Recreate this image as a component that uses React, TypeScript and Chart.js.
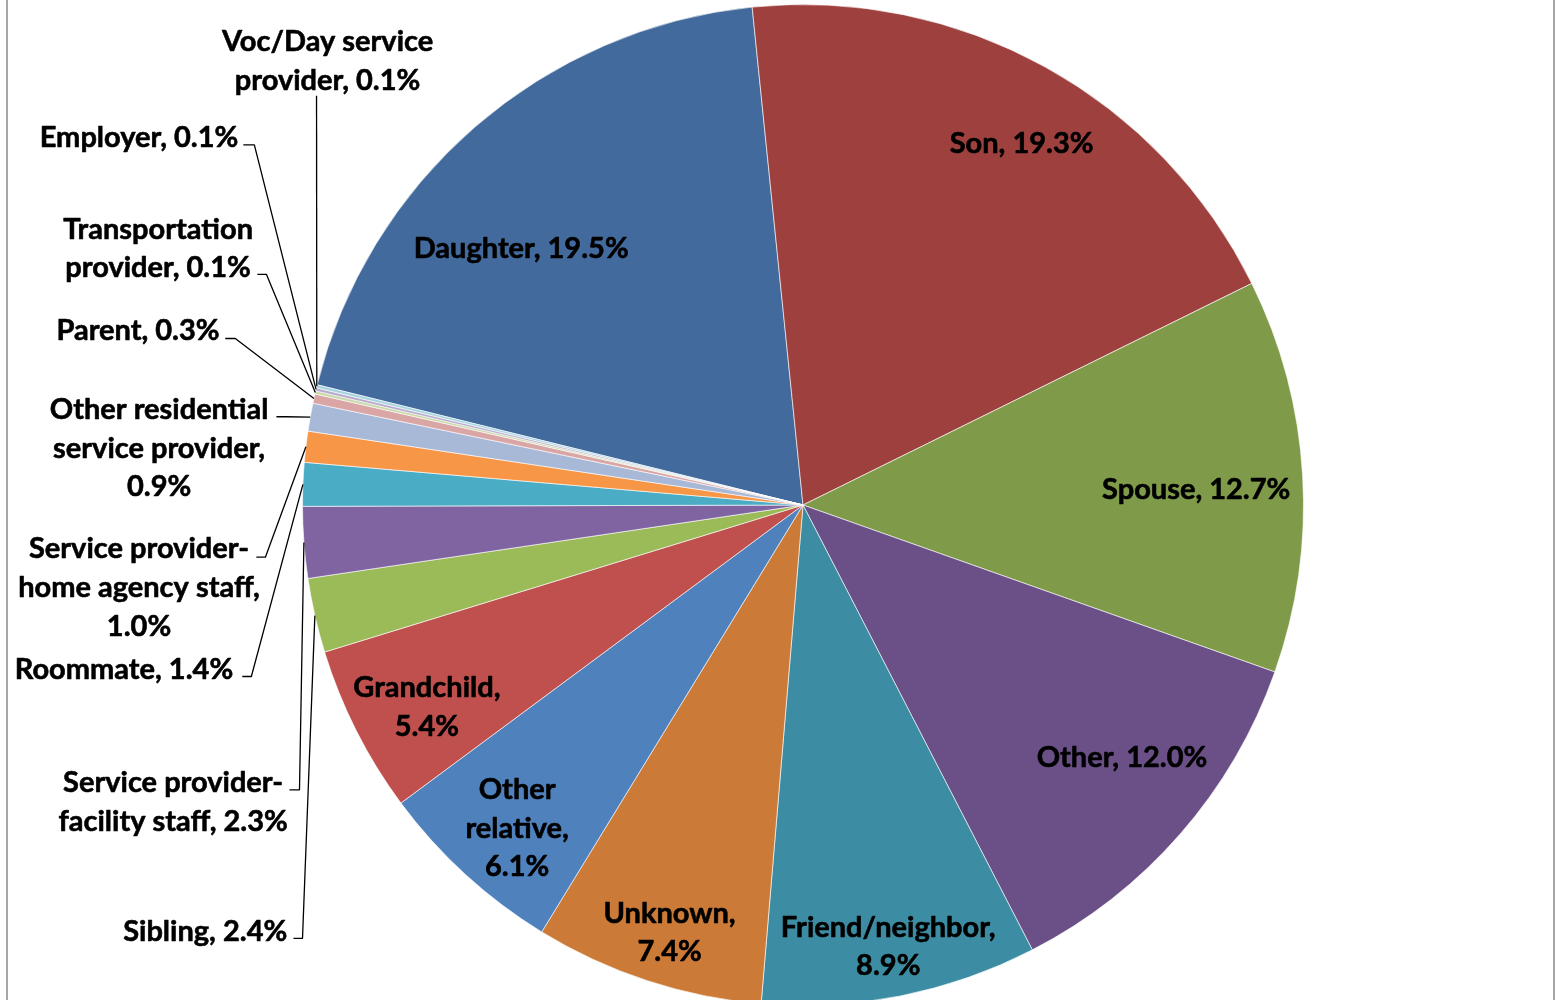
import React, { useEffect, useRef } from "react";
import { Chart, registerables } from "chart.js";

Chart.register(...registerables);

// ---------------- data ----------------
const categories = [
  "Daughter",
  "Son",
  "Spouse",
  "Other",
  "Friend/neighbor",
  "Unknown",
  "Other relative",
  "Grandchild",
  "Sibling",
  "Service provider-facility staff",
  "Roommate",
  "Service provider-home agency staff",
  "Other residential service provider",
  "Parent",
  "Transportation provider",
  "Employer",
  "Voc/Day service provider",
];

const values = [19.5, 19.3, 12.7, 12.0, 8.9, 7.4, 6.1, 5.4, 2.4, 2.3, 1.4, 1.0, 0.9, 0.3, 0.1, 0.1, 0.1];

const colors = [
  "#426A9D",
  "#9E413E",
  "#7F9B49",
  "#6A5086",
  "#3C8DA3",
  "#CC7A37",
  "#4F81BD",
  "#C0504D",
  "#9BBB59",
  "#8064A2",
  "#4BACC6",
  "#F79646",
  "#A8B9D8",
  "#D9A6A5",
  "#C9D9AA",
  "#B8ABCC",
  "#A5D4E1",
];

// ---------------- label layout (offsets from pie centre, reference radius) ----------------
const REF_R = 499;
const LINE_H = 38.5;
const TEXT_DY = 2;
const FONT = "bold 29px Lato";

type Pt = [number, number];
type LabelLayout = { pos: Pt; wrap: number[]; leader?: Pt[] };

const labelLayout: LabelLayout[] = [
  { pos: [-281, -258], wrap: [2] }, // Daughter
  { pos: [218, -362], wrap: [2] }, // Son
  { pos: [392, -17], wrap: [2] }, // Spouse
  { pos: [318, 250], wrap: [2] }, // Other
  { pos: [85, 419], wrap: [1, 1] }, // Friend/neighbor
  { pos: [-133, 405], wrap: [1, 1] }, // Unknown
  { pos: [-285, 282], wrap: [1, 1, 1] }, // Other relative
  { pos: [-375, 180], wrap: [1, 1] }, // Grandchild
  { pos: [-596, 423], wrap: [2], leader: [[-508, 432], [-499, 432]] }, // Sibling
  { pos: [-628, 275], wrap: [2, 3], leader: [[-512, 284], [-502, 284]] }, // facility staff
  { pos: [-677, 162], wrap: [2], leader: [[-559, 171], [-550, 171]] }, // Roommate
  { pos: [-662, 42], wrap: [2, 3, 1], leader: [[-545, 52], [-536, 52]] }, // home agency staff
  { pos: [-642, -97], wrap: [2, 2, 1], leader: [[-525, -88], [-515, -88]] }, // Other residential
  { pos: [-663, -176], wrap: [2], leader: [[-576, -166], [-566, -166]] }, // Parent
  { pos: [-643, -277], wrap: [1, 2], leader: [[-544, -230], [-535, -230]] }, // Transportation
  { pos: [-662, -368], wrap: [2], leader: [[-558, -359], [-547, -359]] }, // Employer
  { pos: [-474, -464], wrap: [2, 2], leader: [[-485, -408]] }, // Voc/Day
];

function tokenize(text: string): string[] {
  const out: string[] = [];
  text.split(" ").forEach((w) => {
    const parts = w.split(/(?<=-)(?=.)/);
    parts.forEach((p) => out.push(p));
  });
  return out;
}

function wrapLines(text: string, wrap: number[]): string[] {
  const tokens = tokenize(text);
  const lines: string[] = [];
  let i = 0;
  wrap.forEach((n) => {
    let line = "";
    for (let k = 0; k < n && i < tokens.length; k++, i++) {
      const t = tokens[i];
      if (line === "") line = t;
      else line += line.endsWith("-") ? t : " " + t;
    }
    lines.push(line);
  });
  return lines;
}

const labelPlugin = {
  id: "pieLabels",
  afterDatasetsDraw(chart: any) {
    const meta = chart.getDatasetMeta(0);
    const ctx = chart.ctx as CanvasRenderingContext2D;
    ctx.save();
    meta.data.forEach((arc: any, i: number) => {
      const p = arc.getProps(["x", "y", "startAngle", "endAngle", "outerRadius"], true);
      const s = p.outerRadius / REF_R;
      const lay = labelLayout[i];
      const label = `${categories[i]}, ${values[i].toFixed(1)}%`;
      const lines = wrapLines(label, lay.wrap);
      if (lay.leader) {
        const mid = (p.startAngle + p.endAngle) / 2;
        const ax = p.x + Math.cos(mid) * p.outerRadius;
        const ay = p.y + Math.sin(mid) * p.outerRadius;
        ctx.beginPath();
        ctx.strokeStyle = "#000";
        ctx.lineWidth = 1.3;
        lay.leader.forEach((pt, k) => {
          const x = p.x + pt[0] * s;
          const y = p.y + pt[1] * s;
          if (k === 0) ctx.moveTo(x, y);
          else ctx.lineTo(x, y);
        });
        ctx.lineTo(ax, ay);
        ctx.stroke();
      }
      ctx.fillStyle = "#000";
      ctx.strokeStyle = "#000";
      ctx.lineWidth = 0.6;
      ctx.lineJoin = "round";
      ctx.font = FONT;
      ctx.textAlign = "center";
      ctx.textBaseline = "middle";
      const cx = p.x + lay.pos[0] * s;
      const cy = p.y + lay.pos[1] * s + TEXT_DY;
      lines.forEach((ln, k) => {
        const ly = cy + k * LINE_H * s;
        ctx.fillText(ln, cx, ly);
        ctx.strokeText(ln, cx, ly);
      });
    });
    ctx.restore();
  },
};

export default function App() {
  const ref = useRef<HTMLCanvasElement>(null);
  useEffect(() => {
    const chart = new Chart(ref.current as HTMLCanvasElement, {
      type: "pie",
      data: {
        labels: categories,
        datasets: [
          {
            data: values,
            backgroundColor: colors,
            borderColor: "rgba(255,255,255,0.6)",
            borderWidth: 1,
          },
        ],
      },
      options: {
        responsive: false,
        animation: false,
        rotation: -76.1,
        layout: { padding: { left: 50, right: 0, top: 4, bottom: 4 } },
        plugins: { legend: { display: false }, tooltip: { enabled: false } },
      },
      plugins: [labelPlugin],
    } as any);
    return () => chart.destroy();
  }, []);
  return (
    <div style={{ position: "fixed", left: 0, top: 0, width: 1556, height: 1010, background: "#fff" }}>
      <canvas ref={ref} width={1556} height={1010} style={{ display: "block" }} />
      <div
        style={{
          position: "absolute",
          left: 6,
          top: 0,
          width: 1545,
          height: 1010,
          borderLeft: "2px solid #A6A6A6",
          borderRight: "2px solid #A6A6A6",
          pointerEvents: "none",
        }}
      />
    </div>
  );
}
